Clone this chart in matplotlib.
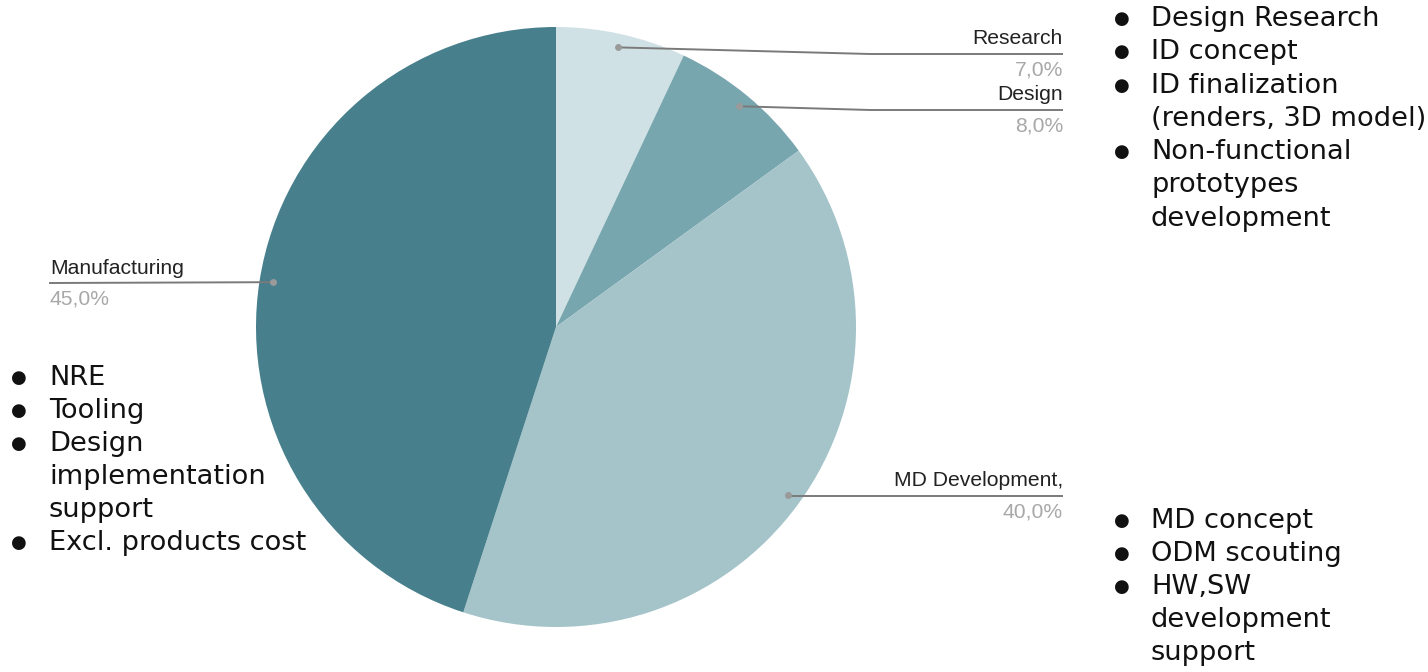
import numpy as np
import matplotlib
matplotlib.use("Agg")
import matplotlib.pyplot as plt

# ---- data ----
categories = ["Research", "Design", "MD Development,", "Manufacturing"]
shares = [7.0, 8.0, 40.0, 45.0]
pct_labels = ["7,0%", "8,0%", "40,0%", "45,0%"]
slice_colors = ["#d0e1e5", "#78a6ae", "#a4c4ca", "#47808c"]

notes_top_right = [("Design Research", True), ("ID concept", True),
                   ("ID finalization", True), ("(renders, 3D model)", False),
                   ("Non-functional", True), ("prototypes", False),
                   ("development", False)]
notes_bottom_right = [("MD concept", True), ("ODM scouting", True),
                      ("HW,SW", True), ("development", False), ("support", False)]
notes_left = [("NRE", True), ("Tooling", True), ("Design", True),
              ("implementation", False), ("support", False),
              ("Excl. products cost", True)]

# ---- layout ----
W, H = 1428, 672
fig = plt.figure(figsize=(W / 100, H / 100), dpi=100)
ax = fig.add_axes([0, 0, 1, 1])

def fy(y):
    return H - y

cx, cy, R = 556, 327, 300
wedges, _ = ax.pie(shares, colors=slice_colors, startangle=90, counterclock=False,
                   center=(cx, fy(cy)), radius=R,
                   wedgeprops=dict(linewidth=0))

ax.set_xlim(0, W)
ax.set_ylim(0, H)
ax.set_aspect("equal")
ax.axis("off")

label_font = dict(family=["Liberation Sans", "DejaVu Sans"], fontsize=15.2)
line_color = "#7a7a7a"
dot_color = "#9a9a9a"

# label anchor positions (x end of leader, y of leader, side)
label_layout = [
    (1063, 54, "right"),
    (1063, 110, "right"),
    (1063, 496, "right"),
    (50, 283, "left"),
]

for w, name, pct, (lx, ly, side) in zip(wedges, categories, pct_labels, label_layout):
    mid = np.deg2rad((w.theta1 + w.theta2) / 2)
    px = cx + 0.955 * R * np.cos(mid)
    py = fy(cy) + 0.955 * R * np.sin(mid)
    if side == "right":
        knee_x = max(px + 10, 870) if abs(fy(ly) - py) > 2 else px
        ax.plot([px, knee_x, lx], [py, fy(ly), fy(ly)], color=line_color, lw=1.4,
                solid_capstyle="butt", zorder=3)
        ha = "right"
    else:
        ax.plot([px, lx], [py, fy(ly)], color=line_color, lw=1.4, zorder=3)
        ha = "left"
    ax.plot([px], [py], "o", color=dot_color, ms=5, zorder=4, mec="none")
    ax.text(lx, fy(ly - 15), name, ha=ha, va="center", color="#222222", **label_font)
    ax.text(lx, fy(ly + 16), pct, ha=ha, va="center", color="#a8a8a8", **label_font)

note_font = dict(family=["DejaVu Sans"], fontsize=19.6, color="#111111")

def bullet_block(items, x_dot, x_text, y0, step):
    for i, (txt, has_bullet) in enumerate(items):
        y = y0 + i * step
        if has_bullet:
            ax.text(x_dot, fy(y), "\u25CF", ha="center", va="center",
                    family=["DejaVu Sans"], fontsize=13, color="#111111")
        ax.text(x_text, fy(y), txt, ha="left", va="center", **note_font)

bullet_block(notes_top_right, 1122, 1151, 19, 33.3)
bullet_block(notes_bottom_right, 1122, 1151, 521, 33)
bullet_block(notes_left, 19, 49, 378, 33)

fig.savefig("out.png", dpi=100, facecolor="white")
